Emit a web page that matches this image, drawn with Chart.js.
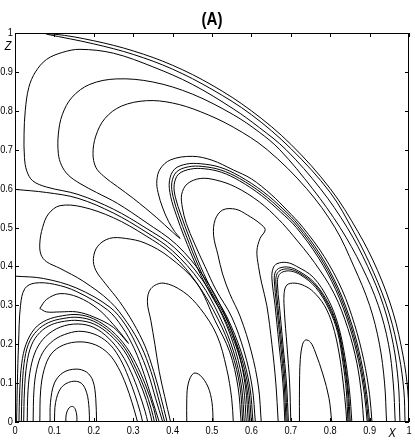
<!DOCTYPE html>
<html>
<head>
<meta charset="utf-8">
<script src="https://cdn.jsdelivr.net/npm/chart.js@4.4.1/dist/chart.umd.min.js"></script>
<style>
  html, body { margin: 0; padding: 0; background: #fff; }
  #wrap { width: 415px; height: 443px; }
</style>
</head>
<body>
<div id="wrap"><canvas id="contourChart" width="415" height="443"></canvas></div>
<script>
// tick labels (same on both axes)
const tickLabels = ['0', '0.1', '0.2', '0.3', '0.4', '0.5', '0.6', '0.7', '0.8', '0.9', '1'];

// contour lines, as [x, z] pairs
// outer family near the unit circle
const outer1 = [[0,1],[0.1,0.997],[0.2,0.98],[0.3,0.954],[0.4,0.917],[0.5,0.866],[0.6,0.8],[0.7,0.714],[0.8,0.6],[0.87,0.49],[0.92,0.39],[0.96,0.28],[0.985,0.17],[0.997,0.08],[1,0]];
const outer2 = [[0.08,0.997],[0.2,0.972],[0.3,0.945],[0.4,0.907],[0.5,0.855],[0.6,0.79],[0.7,0.703],[0.8,0.59],[0.86,0.488],[0.91,0.385],[0.95,0.278],[0.975,0.17],[0.987,0.08],[0.99,0]];
const outer3 = [[0.977,0],[0.973,0.1],[0.96,0.2],[0.935,0.3],[0.895,0.4],[0.843,0.5],[0.775,0.6],[0.688,0.7],[0.62,0.757],[0.554,0.805],[0.45,0.868],[0.35,0.913],[0.25,0.948],[0.165,0.958],[0.12,0.95],[0.08,0.932],[0.052,0.9],[0.035,0.86],[0.026,0.8],[0.023,0.74],[0.024,0.68],[0.03,0.645],[0.045,0.62],[0.08,0.604],[0.16,0.585],[0.25,0.547],[0.33,0.5],[0.405,0.448],[0.475,0.366],[0.526,0.274],[0.56,0.182],[0.58,0.09],[0.587,0]];
const outer4 = [[0.965,0],[0.96,0.1],[0.948,0.2],[0.922,0.3],[0.88,0.4],[0.825,0.5],[0.755,0.6],[0.672,0.7],[0.62,0.745],[0.554,0.79],[0.45,0.843],[0.35,0.874],[0.258,0.882],[0.19,0.868],[0.145,0.835],[0.12,0.79],[0.11,0.74],[0.11,0.69],[0.118,0.66],[0.135,0.635],[0.165,0.613],[0.207,0.59],[0.26,0.562],[0.33,0.515],[0.41,0.456],[0.48,0.372],[0.532,0.278],[0.566,0.185],[0.585,0.09],[0.592,0]];
const outer5 = [[0.943,0],[0.938,0.1],[0.925,0.2],[0.9,0.3],[0.86,0.4],[0.812,0.5],[0.74,0.6],[0.64,0.7],[0.554,0.758],[0.47,0.798],[0.4,0.82],[0.334,0.826],[0.27,0.812],[0.228,0.78],[0.205,0.735],[0.198,0.69],[0.205,0.655],[0.225,0.632],[0.26,0.605],[0.3,0.575],[0.36,0.525],[0.4,0.488],[0.419,0.472],[0.405,0.49],[0.39,0.515],[0.375,0.55],[0.363,0.59],[0.36,0.62],[0.368,0.65],[0.395,0.674],[0.45,0.683],[0.5,0.673],[0.554,0.648],[0.6,0.625],[0.65,0.585],[0.69,0.545],[0.731,0.5],[0.785,0.425],[0.83,0.34],[0.862,0.25],[0.885,0.16],[0.9,0.07],[0.906,0]];

// separatrices from the left axis
const sep1 = [[0,0.598],[0.08,0.59],[0.16,0.575],[0.25,0.537],[0.33,0.49],[0.4,0.44],[0.47,0.36],[0.52,0.27],[0.555,0.18],[0.575,0.09],[0.582,0]];
const sep2 = [[0,0.375],[0.072,0.369],[0.157,0.344],[0.241,0.295],[0.28,0.25],[0.312,0.19],[0.338,0.125],[0.357,0.06],[0.375,0]];

// middle lobes
const midN = [[0.578,0],[0.571,0.09],[0.55,0.18],[0.515,0.265],[0.463,0.355],[0.4,0.43],[0.33,0.48],[0.25,0.525],[0.17,0.553],[0.114,0.556],[0.085,0.535],[0.07,0.5],[0.063,0.46],[0.066,0.43],[0.08,0.412],[0.114,0.395],[0.173,0.362],[0.241,0.31],[0.285,0.255],[0.32,0.195],[0.345,0.13],[0.363,0.065],[0.38,0]];
const midM = [[0.574,0],[0.566,0.09],[0.545,0.18],[0.508,0.26],[0.461,0.357],[0.39,0.425],[0.33,0.46],[0.28,0.472],[0.24,0.472],[0.21,0.452],[0.199,0.42],[0.205,0.39],[0.23,0.355],[0.265,0.31],[0.3,0.255],[0.33,0.195],[0.352,0.13],[0.37,0.065],[0.386,0]];
const midP = [[0.395,0],[0.38,0.065],[0.366,0.13],[0.355,0.2],[0.345,0.26],[0.336,0.31],[0.345,0.343],[0.376,0.357],[0.427,0.335],[0.47,0.292],[0.512,0.224],[0.537,0.138],[0.55,0.06],[0.554,0]];
const midH = [[0.436,0],[0.436,0.06],[0.44,0.1],[0.453,0.125],[0.47,0.12],[0.49,0.09],[0.5,0.05],[0.503,0]];

// lower-left nest
const lowK = [[0.004,0],[0.006,0.1],[0.009,0.2],[0.014,0.3],[0.025,0.343],[0.05,0.357],[0.1,0.354],[0.157,0.335],[0.235,0.288],[0.272,0.244],[0.303,0.188],[0.328,0.122],[0.348,0.058],[0.366,0]];
const lowL = [[0.063,0.292],[0.08,0.315],[0.114,0.33],[0.16,0.321],[0.21,0.291],[0.25,0.25],[0.288,0.202],[0.25,0.243],[0.2,0.27],[0.157,0.283],[0.114,0.283],[0.08,0.283],[0.063,0.292]];
const lowJ1 = [[0.01,0],[0.012,0.08],[0.017,0.15],[0.028,0.2],[0.05,0.24],[0.08,0.262],[0.12,0.273],[0.16,0.276],[0.2,0.265],[0.245,0.235],[0.283,0.192],[0.312,0.14],[0.335,0.085],[0.352,0.035],[0.36,0]];
const lowJ2 = [[0.016,0],[0.018,0.08],[0.023,0.15],[0.034,0.2],[0.056,0.235],[0.086,0.256],[0.122,0.266],[0.16,0.269],[0.2,0.259],[0.243,0.23],[0.28,0.188],[0.307,0.137],[0.33,0.083],[0.346,0.033],[0.354,0]];
const lowJ3 = [[0.022,0],[0.024,0.08],[0.03,0.15],[0.042,0.198],[0.063,0.23],[0.092,0.25],[0.126,0.259],[0.16,0.261],[0.2,0.252],[0.24,0.225],[0.277,0.183],[0.303,0.133],[0.325,0.08],[0.341,0.03],[0.348,0]];
const lowJ4 = [[0.031,0],[0.033,0.08],[0.04,0.14],[0.054,0.186],[0.078,0.22],[0.115,0.244],[0.16,0.252],[0.2,0.243],[0.238,0.215],[0.27,0.175],[0.295,0.127],[0.315,0.075],[0.33,0.028],[0.337,0]];
const lowJ5 = [[0.046,0],[0.048,0.08],[0.055,0.135],[0.07,0.178],[0.098,0.21],[0.135,0.228],[0.17,0.233],[0.21,0.222],[0.243,0.197],[0.268,0.16],[0.288,0.115],[0.305,0.068],[0.318,0.025],[0.324,0]];
const lowJ6 = [[0.063,0],[0.065,0.08],[0.074,0.135],[0.092,0.175],[0.123,0.198],[0.165,0.206],[0.205,0.198],[0.238,0.175],[0.262,0.14],[0.282,0.095],[0.297,0.05],[0.307,0.015],[0.311,0]];
const lowQ1 = [[0.089,0],[0.09,0.05],[0.1,0.1],[0.122,0.127],[0.155,0.136],[0.182,0.128],[0.198,0.105],[0.205,0.06],[0.207,0]];
const lowQ2 = [[0.1,0],[0.103,0.05],[0.117,0.088],[0.143,0.104],[0.168,0.1],[0.182,0.075],[0.188,0.035],[0.189,0]];
const lowQ3 = [[0.129,0],[0.13,0.02],[0.137,0.036],[0.146,0.04],[0.153,0.033],[0.157,0.015],[0.157,0]];

// arches in the middle-right
const archD2 = [[0.596,0],[0.588,0.09],[0.566,0.18],[0.53,0.27],[0.496,0.33],[0.461,0.4],[0.43,0.475],[0.41,0.53],[0.395,0.58],[0.392,0.62],[0.405,0.65],[0.435,0.663],[0.47,0.664],[0.52,0.655],[0.57,0.632],[0.63,0.592],[0.68,0.548],[0.72,0.506],[0.775,0.43],[0.82,0.345],[0.855,0.25],[0.878,0.16],[0.893,0.07],[0.9,0]];
const archD3 = [[0.6,0],[0.592,0.09],[0.57,0.18],[0.534,0.27],[0.5,0.33],[0.466,0.4],[0.436,0.475],[0.416,0.53],[0.401,0.58],[0.398,0.615],[0.41,0.643],[0.44,0.656],[0.475,0.657],[0.522,0.648],[0.57,0.626],[0.628,0.587],[0.677,0.544],[0.717,0.503],[0.772,0.427],[0.817,0.343],[0.852,0.248],[0.875,0.158],[0.89,0.07],[0.897,0]];
const archD4 = [[0.604,0],[0.596,0.09],[0.574,0.18],[0.538,0.27],[0.504,0.33],[0.471,0.4],[0.442,0.475],[0.422,0.53],[0.407,0.578],[0.404,0.61],[0.415,0.637],[0.445,0.65],[0.48,0.651],[0.524,0.642],[0.57,0.62],[0.626,0.582],[0.674,0.54],[0.714,0.5],[0.769,0.424],[0.814,0.34],[0.849,0.246],[0.872,0.157],[0.887,0.07],[0.894,0]];
const archD5 = [[0.61,0],[0.602,0.09],[0.582,0.18],[0.55,0.27],[0.51,0.34],[0.482,0.4],[0.455,0.46],[0.435,0.51],[0.425,0.55],[0.423,0.585],[0.437,0.612],[0.47,0.626],[0.51,0.622],[0.56,0.604],[0.62,0.566],[0.67,0.52],[0.705,0.48],[0.76,0.41],[0.81,0.33],[0.845,0.24],[0.868,0.15],[0.88,0.065],[0.885,0]];
const archE = [[0.625,0],[0.618,0.09],[0.6,0.18],[0.572,0.27],[0.545,0.33],[0.527,0.38],[0.515,0.43],[0.504,0.48],[0.508,0.52],[0.527,0.545],[0.56,0.547],[0.59,0.532],[0.622,0.51],[0.635,0.494],[0.622,0.472],[0.614,0.44],[0.618,0.4],[0.626,0.357],[0.639,0.3],[0.652,0.2],[0.662,0.1],[0.668,0]];

// right-hand nest
const rightF1 = [[0.685,0],[0.68,0.1],[0.67,0.2],[0.66,0.3],[0.652,0.37],[0.655,0.395],[0.665,0.407],[0.69,0.41],[0.715,0.4],[0.757,0.372],[0.795,0.315],[0.82,0.25],[0.837,0.17],[0.849,0.08],[0.855,0]];
const rightF2 = [[0.688,0],[0.683,0.1],[0.674,0.2],[0.664,0.3],[0.658,0.365],[0.661,0.386],[0.672,0.396],[0.695,0.398],[0.72,0.388],[0.76,0.358],[0.797,0.302],[0.82,0.24],[0.835,0.165],[0.846,0.08],[0.851,0]];
const rightF3 = [[0.691,0],[0.686,0.1],[0.677,0.2],[0.667,0.3],[0.662,0.36],[0.665,0.381],[0.676,0.391],[0.697,0.393],[0.722,0.383],[0.762,0.352],[0.797,0.296],[0.82,0.235],[0.834,0.16],[0.844,0.08],[0.848,0]];
const rightF4 = [[0.694,0],[0.689,0.1],[0.68,0.2],[0.671,0.3],[0.666,0.355],[0.669,0.376],[0.68,0.386],[0.7,0.388],[0.725,0.378],[0.763,0.346],[0.797,0.29],[0.819,0.23],[0.832,0.155],[0.841,0.08],[0.845,0]];
const rightF5 = [[0.7,0],[0.697,0.1],[0.69,0.2],[0.684,0.28],[0.683,0.33],[0.69,0.352],[0.71,0.357],[0.735,0.35],[0.757,0.335],[0.785,0.3],[0.806,0.25],[0.822,0.18],[0.833,0.1],[0.84,0.03],[0.842,0]];
const rightG = [[0.722,0],[0.722,0.08],[0.724,0.16],[0.73,0.2],[0.738,0.211],[0.75,0.205],[0.762,0.18],[0.782,0.121],[0.797,0.061],[0.804,0]];

const contours = [
    outer1, outer2, outer3, outer4, outer5, sep1, sep2,
    midN, midM, midP, midH,
    lowK, lowL, lowJ1, lowJ2, lowJ3, lowJ4, lowJ5, lowJ6, lowQ1, lowQ2, lowQ3,
    archD2, archD3, archD4, archD5, archE,
    rightF1, rightF2, rightF3, rightF4, rightF5, rightG
];

const fontFamily = "'Liberation Sans', Arial, Helvetica, sans-serif";

// narrow text, like the Helvetica Narrow of the original
function narrowText(ctx, text, x, y, font, align) {
    ctx.save();
    ctx.font = font;
    ctx.textAlign = align;
    ctx.translate(x, y);
    ctx.scale(0.84, 1);
    ctx.fillText(text, 0, 0);
    ctx.restore();
}

// frame, inward ticks, tick labels, axis letters and the panel title
const framePlugin = {
    id: 'frame',
    afterDraw(chart) {
        const { ctx, chartArea: a, scales: { x, y } } = chart;
        ctx.save();
        ctx.strokeStyle = '#000';
        ctx.lineWidth = 1;
        ctx.strokeRect(a.left + 0.5, a.top + 0.5, a.right - a.left - 1, a.bottom - a.top - 1);

        ctx.beginPath();
        x.ticks.forEach(t => {
            const px = Math.round(x.getPixelForValue(t.value)) + 0.5;
            ctx.moveTo(px, a.bottom);
            ctx.lineTo(px, a.bottom - 4);
            ctx.moveTo(px, a.top);
            ctx.lineTo(px, a.top + 4);
        });
        y.ticks.forEach(t => {
            const py = Math.round(y.getPixelForValue(t.value)) + 0.5;
            ctx.moveTo(a.left, py);
            ctx.lineTo(a.left + 4, py);
            ctx.moveTo(a.right, py);
            ctx.lineTo(a.right - 4, py);
        });
        ctx.stroke();

        ctx.fillStyle = '#000';
        ctx.textBaseline = 'middle';
        const tickFont = `11px ${fontFamily}`;
        x.ticks.forEach((t, i) => {
            narrowText(ctx, tickLabels[i], x.getPixelForValue(t.value), a.bottom + 9, tickFont, 'center');
        });
        y.ticks.forEach((t, i) => {
            narrowText(ctx, tickLabels[i], a.left - 2, y.getPixelForValue(t.value), tickFont, 'right');
        });

        const letterFont = `italic 13px ${fontFamily}`;
        narrowText(ctx, 'Z', 8, y.getPixelForValue(0.966), letterFont, 'center');
        narrowText(ctx, 'X', x.getPixelForValue(0.957), a.bottom + 11, letterFont, 'center');

        ctx.textBaseline = 'alphabetic';
        narrowText(ctx, '(A)', (a.left + a.right) / 2, 25, `bold 18px ${fontFamily}`, 'center');
        ctx.restore();
    }
};

const ctx = document.getElementById('contourChart').getContext('2d');

new Chart(ctx, {
    type: 'scatter',
    data: {
        datasets: contours.map(line => ({
            data: line.map(([x, z]) => ({ x: x, y: z })),
            showLine: true,
            borderColor: '#000',
            borderWidth: 1,
            pointRadius: 0,
            tension: 0.35,
            fill: false
        }))
    },
    options: {
        responsive: false,
        animation: false,
        layout: { padding: { top: 33, right: 6, left: 0, bottom: 0 } },
        plugins: {
            legend: { display: false },
            tooltip: { enabled: false }
        },
        scales: {
            x: {
                type: 'linear',
                min: 0,
                max: 1,
                grid: { display: false, drawTicks: false },
                border: { display: false },
                ticks: { stepSize: 0.1, autoSkip: false, display: false },
                afterFit: scale => { scale.height = 21; }
            },
            y: {
                type: 'linear',
                min: 0,
                max: 1,
                grid: { display: false, drawTicks: false },
                border: { display: false },
                ticks: { stepSize: 0.1, autoSkip: false, display: false },
                afterFit: scale => { scale.width = 15; }
            }
        }
    },
    plugins: [framePlugin]
});
</script>
</body>
</html>
